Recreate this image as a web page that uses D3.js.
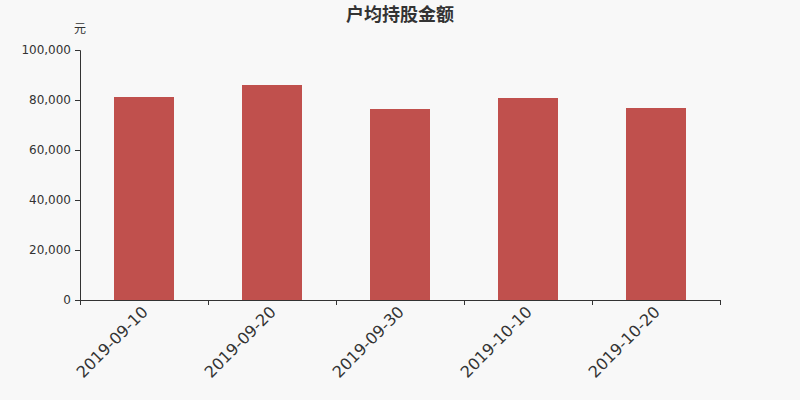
<!DOCTYPE html>
<html>
<head>
<meta charset="utf-8">
<script src="https://cdn.jsdelivr.net/npm/d3@7"></script>
<style>
  body { margin: 0; background: #f8f8f8; }
  svg { display: block; font-family: "DejaVu Sans", sans-serif; }
</style>
</head>
<body>
<div id="chart"></div>
<script>
// data
var dates = ["2019-09-10", "2019-09-20", "2019-09-30", "2019-10-10", "2019-10-20"];
var amounts = [81200, 86000, 76400, 80800, 76800];
var yTicks = [0, 20000, 40000, 60000, 80000, 100000];

var margin = {top: 50, right: 80, bottom: 100, left: 80},
    width = 800 - margin.left - margin.right,
    height = 400 - margin.top - margin.bottom;

var svg = d3.select("#chart")
  .append("svg")
    .attr("width", 800)
    .attr("height", 400)
    .style("background", "#f8f8f8");

// title
svg.append("text")
    .attr("x", 400)
    .attr("y", 21)
    .attr("text-anchor", "middle")
    .style("font-family", "'Noto Sans CJK SC', sans-serif")
    .style("font-size", "18px")
    .style("font-weight", "bold")
    .style("fill", "#333")
    .text("户均持股金额");

// unit
svg.append("text")
    .attr("x", 80)
    .attr("y", 33)
    .attr("text-anchor", "middle")
    .style("font-family", "'Noto Sans CJK SC', sans-serif")
    .style("font-size", "12px")
    .style("fill", "#333")
    .text("元");

var g = svg.append("g")
    .attr("transform", "translate(" + margin.left + "," + margin.top + ")");

var x = d3.scaleBand()
    .domain(dates)
    .range([0, width]);

var y = d3.scaleLinear()
    .domain([0, 100000])
    .range([height, 0]);

// bars
g.selectAll("rect")
    .data(amounts)
    .enter()
    .append("rect")
      .attr("x", function(d, i) { return x(dates[i]) + x.bandwidth() / 2 - 30; })
      .attr("y", function(d) { return y(d); })
      .attr("width", 60)
      .attr("height", function(d) { return height - y(d); })
      .style("fill", "#c0504d");

// y axis
var yAxis = g.append("g")
    .call(d3.axisLeft(y)
      .tickValues(yTicks)
      .tickSize(5)
      .tickPadding(4)
      .tickFormat(d3.format(",")));
yAxis.attr("font-family", null).attr("font-size", null);
yAxis.selectAll("text").style("font-size", "12px").style("fill", "#333");

// x axis: ticks at band boundaries, labels at band centers
var xEdge = d3.scaleLinear().domain([0, dates.length]).range([0, width]);
var xAxis = g.append("g")
    .attr("transform", "translate(0," + height + ")")
    .call(d3.axisBottom(xEdge)
      .tickValues(d3.range(dates.length + 1))
      .tickSize(5)
      .tickFormat(""));

g.append("g")
    .attr("transform", "translate(0," + height + ")")
  .selectAll("text")
    .data(dates)
    .enter()
    .append("text")
      .attr("transform", function(d) {
        return "translate(" + (x(d) + x.bandwidth() / 2 + 1) + ",9) rotate(-45)";
      })
      .attr("text-anchor", "end")
      .attr("dy", "0.35em")
      .style("font-size", "16px")
      .style("fill", "#333")
      .text(function(d) { return d; });

svg.selectAll(".domain, .tick line").style("stroke", "#333");
</script>
</body>
</html>
